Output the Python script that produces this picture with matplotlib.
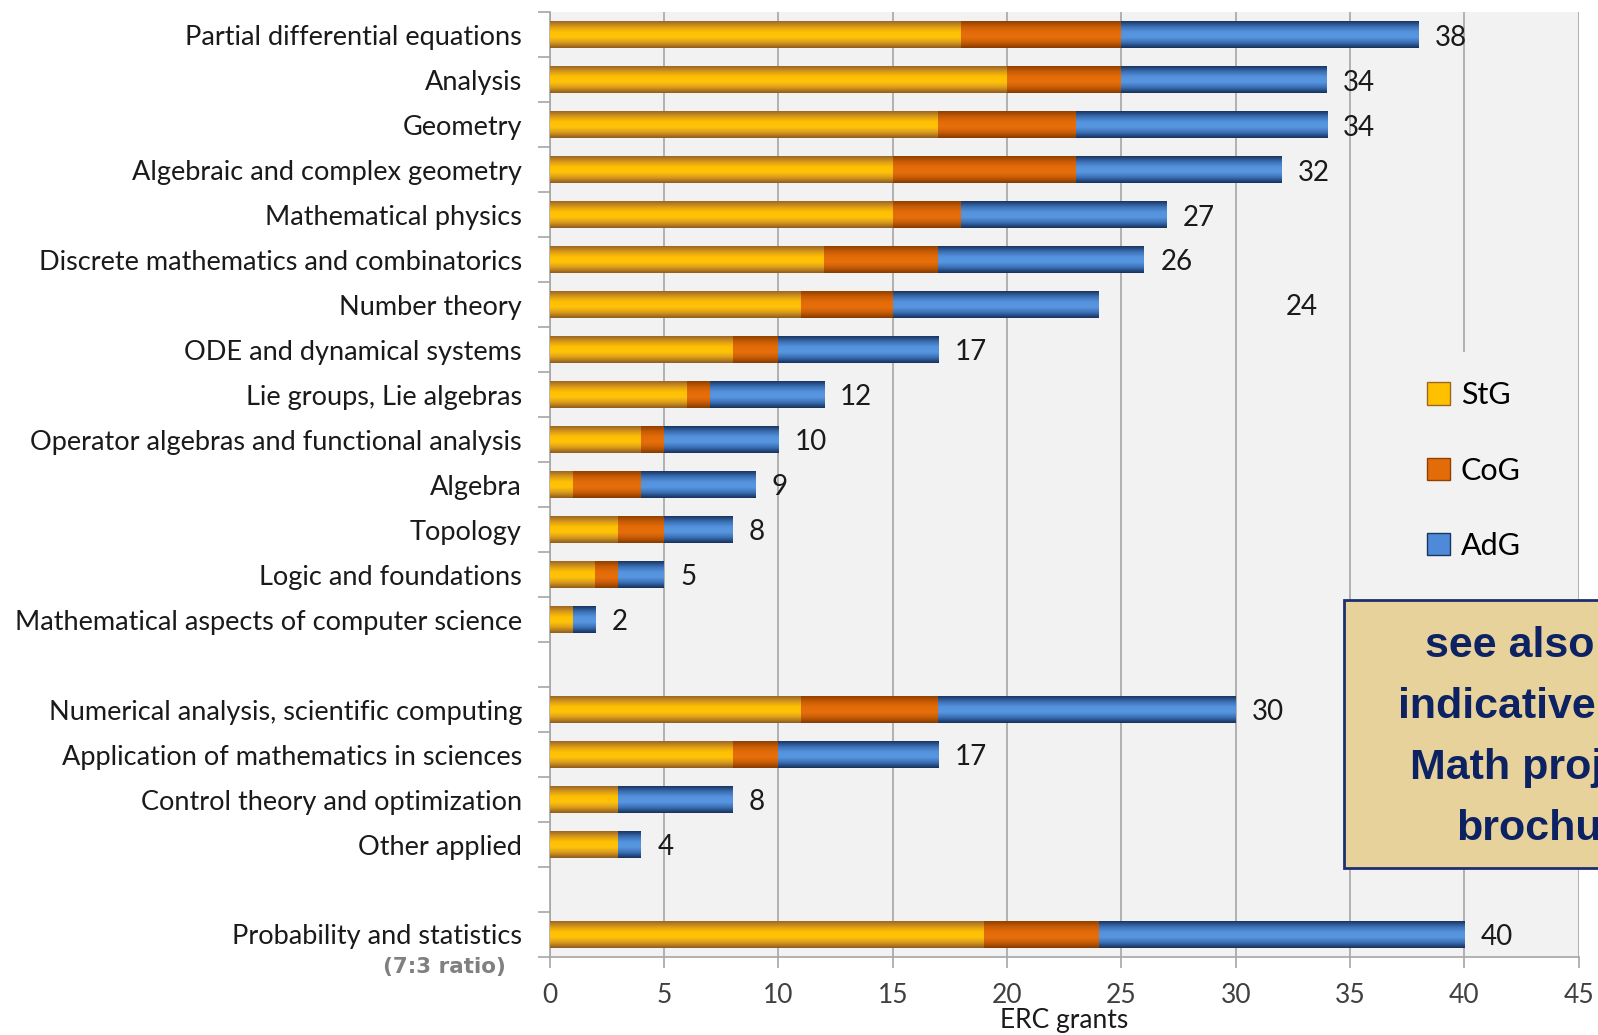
import numpy as np
import matplotlib.pyplot as plt
from matplotlib.colors import LinearSegmentedColormap
from matplotlib.patches import Rectangle, Patch

# categories top to bottom, '' = blank separator rows
categories = ["Partial differential equations", "Analysis", "Geometry",
              "Algebraic and complex geometry", "Mathematical physics",
              "Discrete mathematics and combinatorics", "Number theory",
              "ODE and dynamical systems", "Lie groups, Lie algebras",
              "Operator algebras and functional analysis", "Algebra", "Topology",
              "Logic and foundations", "Mathematical aspects of computer science",
              "",
              "Numerical analysis, scientific computing",
              "Application of mathematics in sciences",
              "Control theory and optimization", "Other applied",
              "",
              "Probability and statistics"]
stg = [18, 20, 17, 15, 15, 12, 11, 8, 6, 4, 1, 3, 2, 1, 0, 11, 8, 3, 3, 0, 19]
cog = [7, 5, 6, 8, 3, 5, 4, 2, 1, 1, 3, 2, 1, 0, 0, 6, 2, 0, 0, 0, 5]
adg = [13, 9, 11, 9, 9, 9, 9, 7, 5, 5, 5, 3, 2, 1, 0, 13, 7, 5, 1, 0, 16]
# the "24" label sits far from its bar in the original
label_x = {6: 32.2}
xticks = [0, 5, 10, 15, 20, 25, 30, 35, 40, 45]

plt.rcParams['font.family'] = ['Lato', 'DejaVu Sans']

fig = plt.figure(figsize=(15.98, 10.35), dpi=100)
ax = fig.add_axes([0.344, 0.0754, 0.644, 0.9126])
ax.set_facecolor('#f2f2f2')

y = np.arange(len(categories))
stg = np.array(stg); cog = np.array(cog); adg = np.array(adg)
total = stg + cog + adg

cmaps = [
    LinearSegmentedColormap.from_list('stg', ['#9c6626', '#d99a1a', '#ffc000', '#ffc30a', '#d99a1a', '#8f5c20']),
    LinearSegmentedColormap.from_list('cog', ['#8f4000', '#c95c05', '#e36c09', '#e66f0c', '#c95c05', '#843b00']),
    LinearSegmentedColormap.from_list('adg', ['#1a3560', '#3a6fb5', '#5592dd', '#5896e0', '#3a6fb5', '#17305a']),
]
base = ['#ffc000', '#e36c09', '#4f8ad8']
names = ['StG', 'CoG', 'AdG']

grad = np.linspace(0, 1, 64).reshape(-1, 1)
left = np.zeros(len(categories))
for vals, cm, col in zip([stg, cog, adg], cmaps, base):
    bars = ax.barh(y, vals, left=left, height=0.6, color=col, zorder=3)
    for p in bars:
        if p.get_width() <= 0:
            continue
        bb = p.get_bbox()
        im = ax.imshow(grad, cmap=cm, extent=[bb.x0, bb.x1, bb.y1, bb.y0],
                       aspect='auto', zorder=3.5, interpolation='bicubic')
        im.set_clip_path(p)
    left = left + vals

for i, t in enumerate(total):
    if categories[i] == '':
        continue
    ax.text(label_x.get(i, t + 0.7), i + 0.06, str(t), va='center', ha='left',
            fontsize=20, color='#1a1a1a', zorder=5)

ax.set_xlim(0, 45)
ax.set_ylim(len(categories) - 0.5, -0.5)
ax.set_xticks(xticks)
ax.set_yticks(y)
ax.set_yticklabels(categories, fontsize=19.5, color='#1a1a1a')
ax.tick_params(axis='y', which='major', length=0, pad=20)
ax.set_yticks(np.arange(-0.5, len(categories)), minor=True)
ax.tick_params(axis='y', which='minor', length=9, color='#a6a6a6', width=1.2)
ax.tick_params(axis='x', length=8, color='#a6a6a6', width=1.2, labelsize=19,
               labelcolor='#404040', pad=11)
ax.grid(axis='x', color='#a6a6a6', lw=1.2, zorder=1)
ax.set_axisbelow(True)
for s in ['top', 'right']:
    ax.spines[s].set_visible(False)
for s in ['left', 'bottom']:
    ax.spines[s].set_color('#a6a6a6')
    ax.spines[s].set_linewidth(1.2)
ax.set_xlabel('ERC grants', fontsize=19, color='#1a1a1a', labelpad=0)

# legend panel covering the gridline
ax.add_patch(Rectangle((0.80, 0.36), 0.19, 0.28, transform=ax.transAxes,
                       facecolor='#f2f2f2', edgecolor='none', zorder=2))
handles = [Patch(facecolor=c, edgecolor=cm(0.0), lw=1) for c, cm in zip(base, cmaps)]
leg = ax.legend(handles, names, loc='center left', bbox_to_anchor=(0.826, 0.515),
                frameon=False, fontsize=22, handlelength=0.75, handleheight=0.75,
                handletextpad=0.35, labelspacing=1.55)
leg.set_zorder(6)

fig.text(506 / 1598, 1 - 967 / 1035, '(7:3 ratio)', ha='right', va='center',
         fontsize=15.5, fontweight='bold', color='#808080', family='DejaVu Sans')

# note box, clipped by the right edge of the figure
fig.add_artist(Rectangle((1344 / 1598, 1 - 868 / 1035), 0.3, 268 / 1035,
                         transform=fig.transFigure, facecolor='#e8d29c',
                         edgecolor='#1f2f6e', lw=2, zorder=10))
note = [("see also", 1425, 646), ("indicative", 1398, 707),
        ("Math projects", 1410, 768), ("brochure", 1456, 829)]
for txt, px, py in note:
    fig.text(px / 1598, 1 - py / 1035, txt, ha='left', va='center', fontsize=31,
             fontweight='bold', color='#0d2262', family='Liberation Sans', zorder=11)

fig.savefig('out.png', dpi=100)
